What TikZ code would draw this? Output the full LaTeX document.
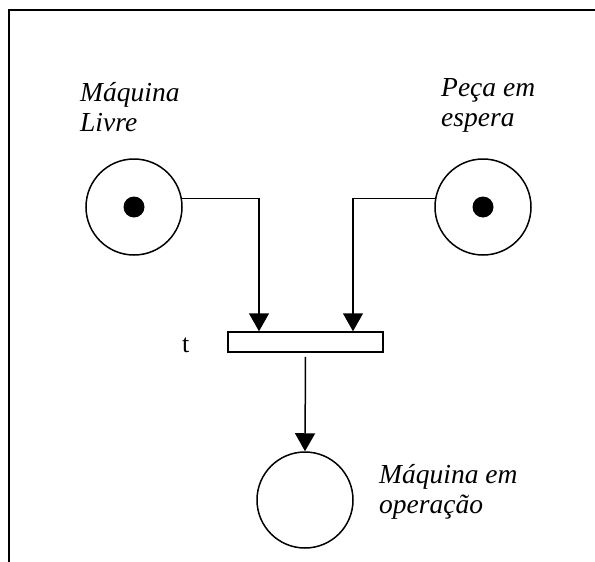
\documentclass[tikz,border=0pt]{standalone}
\usepackage{fontspec}
\setmainfont{Liberation Serif}
\usetikzlibrary{arrows.meta}
\begin{document}
\begin{tikzpicture}[x=1pt,y=-1pt,
  place/.style={circle,draw,line width=1.5pt,minimum size=96pt,inner sep=0pt},
  token/.style={circle,fill=black,minimum size=21pt,inner sep=0pt},
  trans/.style={rectangle,draw,line width=1.5pt,minimum width=155pt,minimum height=20pt,inner sep=0pt},
  arc/.style={line width=1.5pt,-{Triangle[length=18pt,width=20pt]}},
  lbl/.style={font=\fontsize{27.5}{30}\selectfont\itshape,align=left,anchor=base west,inner sep=0pt}]
  \useasboundingbox (0,0) rectangle (595,562);
  % open frame: top and left edges only
  \draw[line width=1.5pt] (595,10) -- (9,10) -- (9,562);

  % places and transition
  \node[place] (livre) at (134,207) {};
  \node[token] (tokL) at (livre) {};
  \node[place] (espera) at (483,207) {};
  \node[token] (tokR) at (espera) {};
  \node[trans] (t) at (305.5,342) {};
  \node[place] (oper) at (305,500) {};

  % labels (base anchor sits on the last line)
  \node[lbl] (lL) at (80,131.5) {Máquina\\Livre};
  \node[lbl] (lR) at (441,126.5) {Peça em\\espera};
  \node[lbl] (lO) at (379,513) {Máquina em\\operação};
  \node[font=\fontsize{26}{30}\selectfont,anchor=base west,inner sep=0pt] (tl) at (182,352) {t};

  % arcs
  \draw[arc] (livre.10) -| ([xshift=-46.5pt]t.north);
  \draw[arc] (espera.170) -| ([xshift=47.5pt]t.north);
  \draw[arc] ([yshift=-4pt]t.south) -- (oper.north);
\end{tikzpicture}
\end{document}
